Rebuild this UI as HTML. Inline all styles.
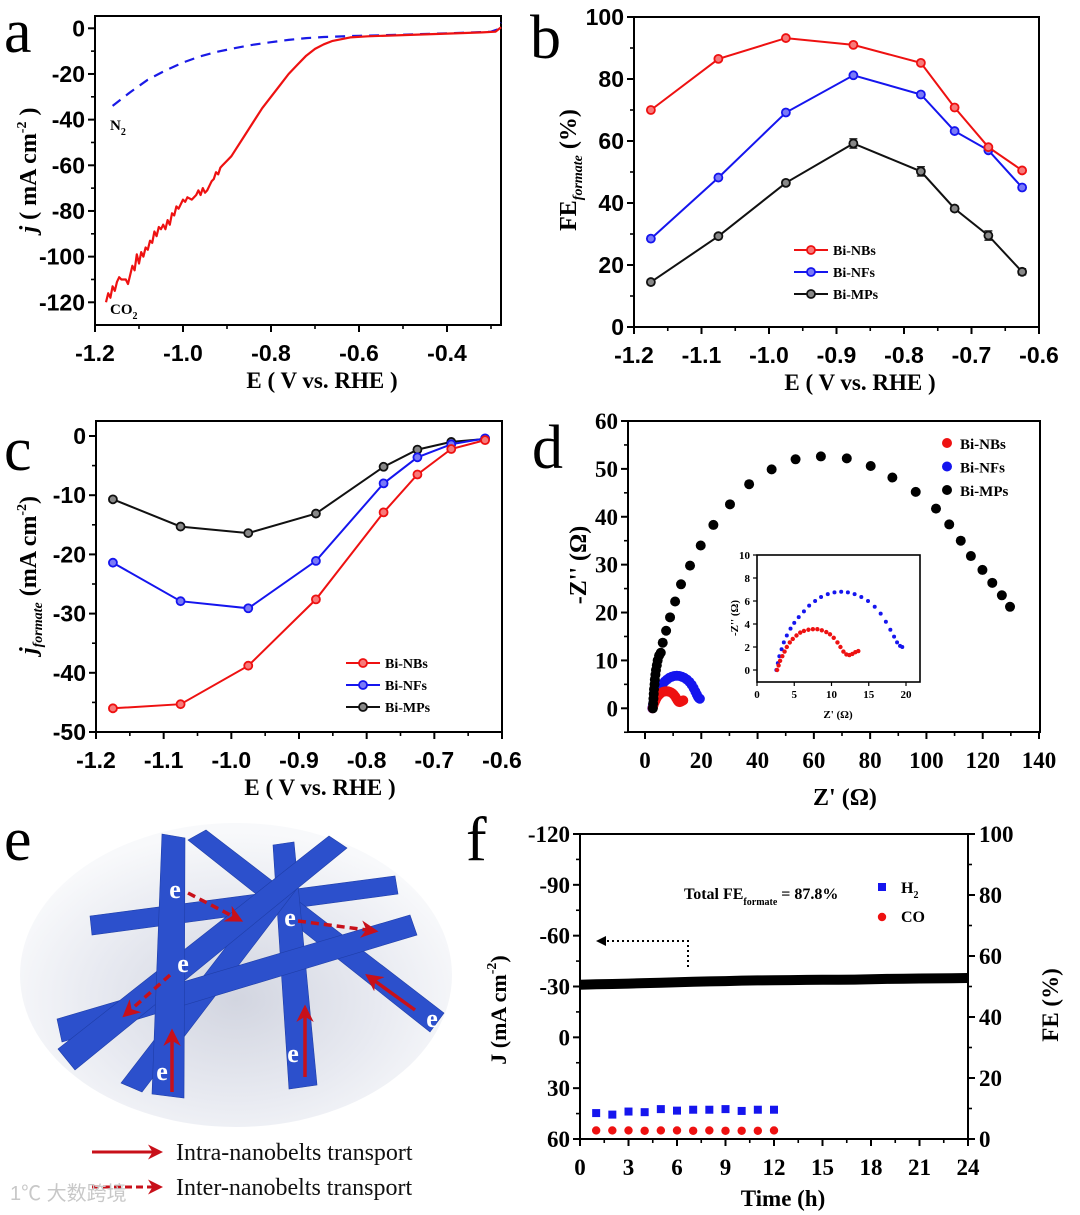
<!DOCTYPE html>
<html><head><meta charset="utf-8"><style>
html,body{margin:0;padding:0;background:#fff;}
svg{display:block;}
</style></head><body>
<svg id="fig" width="1080" height="1215" viewBox="0 0 1080 1215" xmlns="http://www.w3.org/2000/svg">
<defs>
<radialGradient id="shadowGrad" cx="0.5" cy="0.58" r="0.55">
<stop offset="0" stop-color="#d2d5e0"/><stop offset="0.6" stop-color="#e8eaf1"/><stop offset="1" stop-color="#f8f9fb"/>
</radialGradient>
<marker id="redHead" viewBox="0 0 10 10" refX="8" refY="5" markerWidth="5" markerHeight="5" orient="auto"><path d="M0,0 L10,5 L0,10 L3,5 z" fill="#c8101a"/></marker>
<marker id="blackHead" viewBox="0 0 10 10" refX="2" refY="5" markerWidth="6" markerHeight="5" orient="auto-start-reverse"><path d="M0,0 L10,5 L0,10 z" fill="#000"/></marker>
</defs>
<g id="pa"></g>
<g id="pb"></g>
<g id="pc"></g>
<g id="pd"></g>
<g id="pe">
  <ellipse cx="236" cy="975" rx="216" ry="152" fill="url(#shadowGrad)"/>
  <g fill="#2c50cc" stroke="#1f3ea8" stroke-width="0.6">
    <polygon points="90,916 395,876 398,894 92,935"/>
    <polygon points="188,840 206,830 444,1013 430,1032"/>
    <polygon points="273,845 294,842 317,1085 289,1089"/>
    <polygon points="121,1083 284,872 302,882 142,1092"/>
    <polygon points="57,1019 410,915 417,935 62,1042"/>
    <polygon points="58,1049 329,836 347,848 75,1070"/>
    <polygon points="162,834 185,838 184,1098 152,1094"/>
  </g>
  <g stroke="#c8101a" stroke-width="3.5" fill="none">
    <line x1="172" y1="1092" x2="172" y2="1032" marker-end="url(#redHead)"/>
    <line x1="305" y1="1077" x2="305" y2="1008" marker-end="url(#redHead)"/>
    <line x1="415" y1="1010" x2="368" y2="976" marker-end="url(#redHead)"/>
    <line x1="188" y1="893" x2="240" y2="920" stroke-dasharray="8,5" marker-end="url(#redHead)"/>
    <line x1="298" y1="921" x2="375" y2="931" stroke-dasharray="8,5" marker-end="url(#redHead)"/>
    <line x1="170" y1="975" x2="125" y2="1015" stroke-dasharray="8,5" marker-end="url(#redHead)"/>
  </g>
  <g font-family="'Liberation Serif',serif" font-weight="bold" font-size="26" fill="#fff" text-anchor="middle">
    <text x="175" y="898">e</text><text x="290" y="926">e</text><text x="183" y="972">e</text>
    <text x="162" y="1080">e</text><text x="293" y="1062">e</text><text x="432" y="1027">e</text>
  </g>
  <line x1="92" y1="1152" x2="160" y2="1152" stroke="#c8101a" stroke-width="3" marker-end="url(#redHead)"/>
  <text x="176" y="1160" font-family="'Liberation Serif',serif" font-size="24" fill="#111">Intra-nanobelts transport</text>
  <line x1="92" y1="1187" x2="160" y2="1187" stroke="#c8101a" stroke-width="3" stroke-dasharray="7,4" marker-end="url(#redHead)"/>
  <text x="176" y="1195" font-family="'Liberation Serif',serif" font-size="24" fill="#111">Inter-nanobelts transport</text>
  <text x="10" y="1200" font-family="'Liberation Sans','Noto Sans CJK SC',sans-serif" font-size="20" fill="#c8c8c8">1℃ 大数跨境</text>
</g>
<g id="pf"></g>
<g font-family="'Liberation Serif',serif" font-size="62" fill="#000">
  <text x="4" y="52">a</text>
  <text x="530" y="58">b</text>
  <text x="4" y="470">c</text>
  <text x="532" y="468">d</text>
  <text x="4" y="860">e</text>
  <text x="466" y="860">f</text>
</g>
</svg>
<script>
// ---------- DATA ----------
// Panel a
const aCO2E = [-1.175,-1.17,-1.165,-1.16,-1.155,-1.15,-1.145,-1.14,-1.13,-1.125,-1.12,-1.115,-1.11,-1.105,-1.10,-1.095,-1.09,-1.085,-1.08,-1.075,-1.07,-1.065,-1.06,-1.055,-1.05,-1.045,-1.04,-1.035,-1.03,-1.025,-1.02,-1.015,-1.01,-1.00,-0.995,-0.99,-0.98,-0.97,-0.965,-0.96,-0.955,-0.95,-0.945,-0.94,-0.935,-0.93,-0.925,-0.92,-0.915,-0.91,-0.90,-0.89,-0.88,-0.86,-0.84,-0.82,-0.80,-0.78,-0.76,-0.74,-0.72,-0.70,-0.68,-0.66,-0.62,-0.58,-0.50,-0.40,-0.32,-0.29,-0.277];
const aCO2J = [-120,-116,-118,-113,-115,-111,-109,-110,-110,-112,-108,-104,-106,-99,-103,-98,-100,-96,-97,-93,-94,-89,-91,-87,-88,-86,-88,-84,-86,-81,-82,-78,-79,-75,-76,-74,-75,-73,-71,-73,-70,-72,-71,-69,-67,-66,-63,-64,-61,-60,-58,-56,-53,-47,-41,-35,-30,-25,-20,-16,-12,-9,-7,-5.5,-4,-3.5,-3,-2.3,-1.8,-1.5,0.5];
const aN2E = [-1.16,-1.12,-1.08,-1.04,-1.0,-0.96,-0.92,-0.88,-0.84,-0.80,-0.76,-0.72,-0.68,-0.60,-0.50,-0.40,-0.30,-0.285,-0.277];
const aN2J = [-34,-28,-22.5,-18.5,-15,-12.2,-10.2,-8.6,-7.2,-6.1,-5.1,-4.3,-3.8,-3.3,-2.8,-2.2,-1.5,-0.5,2.5];
// Panel b / c
const potentials = [-1.175,-1.075,-0.975,-0.875,-0.775,-0.725,-0.675,-0.625];
const feNBs = [70,86.5,93.2,91,85.2,70.8,58,50.5];
const feNFs = [28.5,48.2,69.2,81.2,75,63.2,57,45];
const feMPs = [14.5,29.3,46.5,59.2,50.2,38.2,29.5,17.8];
const feErrMPs = [0.8,0.8,0.8,1.5,1.5,0.8,1.5,1.0];
const jNBs = [-46,-45.3,-38.8,-27.6,-12.9,-6.5,-2.2,-0.7];
const jNFs = [-21.4,-27.9,-29.1,-21.1,-8,-3.6,-1.4,-0.4];
const jMPs = [-10.7,-15.3,-16.4,-13.1,-5.2,-2.3,-1.0,-0.5];
// Panel d
const mpsZre = [2.8,2.9,3.0,3.1,3.2,3.4,3.5,3.7,3.9,4.2,4.5,5.0,5.6,6.3,7.5,8.9,10.7,12.8,16,19.8,24.3,30.2,37,45,53.5,62.5,71.7,80.2,87.9,96.2,103.4,108.1,112.2,115.8,119.9,123.4,126.8,129.7];
const mpsZim = [0,1,2,3,4,5,6,7,8,9,10,11,11.6,13.7,16.2,19,22.3,25.9,29.8,34,38.3,42.6,46.8,49.9,52,52.6,52.2,50.6,48.2,45.2,41.7,38.4,35,31.8,28.9,26.2,23.6,21.2];
const nbsZre = [2.7,2.9,3.1,3.4,3.7,4.0,4.4,4.8,5.3,5.8,6.3,6.9,7.5,8.1,8.7,9.3,9.8,10.3,10.8,11.2,11.6,12.0,12.4,12.8,13.2,13.6];
const nbsZim = [0,0.4,0.8,1.2,1.6,2.0,2.4,2.7,3.0,3.25,3.4,3.5,3.55,3.55,3.45,3.3,3.1,2.8,2.4,2.0,1.6,1.35,1.3,1.4,1.55,1.65];
const nfsZre = [2.6,2.8,3.0,3.3,3.6,4.0,4.5,5.0,5.6,6.3,7.0,7.8,8.6,9.5,10.4,11.3,12.2,13.1,14.0,14.9,15.8,16.6,17.3,17.9,18.4,18.8,19.2,19.5];
const nfsZim = [0,0.6,1.2,1.8,2.4,3.0,3.6,4.1,4.6,5.1,5.6,6.0,6.35,6.6,6.75,6.8,6.75,6.6,6.35,6.0,5.5,4.9,4.2,3.5,2.9,2.4,2.1,2.0];
// Panel f
const timeH = [0,1,2,3,4,5,6,7,8,9,10,11,12,13,14,15,16,17,18,19,20,21,22,23,24];
const currentJ = [-31,-31.3,-31.5,-31.7,-32,-32.2,-32.5,-32.8,-33,-33.2,-33.5,-33.6,-33.7,-33.8,-33.9,-34,-34,-34.1,-34.3,-34.5,-34.6,-34.7,-34.8,-34.9,-35];
const feTime = [1,2,3,4,5,6,7,8,9,10,11,12];
const feH2 = [8.5,8,9,8.8,9.8,9.3,9.6,9.6,9.8,9.2,9.6,9.6];
const feCO = [2.8,2.8,2.8,2.7,2.8,2.8,2.7,2.8,2.7,2.7,2.7,2.8];

// ---------- HELPERS ----------
const NS='http://www.w3.org/2000/svg';
function mk(tag, attrs, parent){const e=document.createElementNS(NS,tag);for(const k in attrs)e.setAttribute(k,attrs[k]);parent.appendChild(e);return e;}
function lin(d0,d1,r0,r1){return v=>r0+(v-d0)/(d1-d0)*(r1-r0);}

function frame(g, box, o){
  const r=mk('rect',{x:box.l,y:box.t,width:box.r-box.l,height:box.b-box.t,fill:'none',stroke:'#000','stroke-width':2},g);
  
  
  const font=o.font, fs=o.fs||23;
  const xg=mk('g',{},g);
  
  
  o.xMajor.forEach((v,i)=>{
    const x=o.sx(v);
    mk('line',{x1:x,y1:box.b,x2:x,y2:box.b+7,stroke:'#000','stroke-width':2},xg);
    const t=mk('text',{x:x+(o.xdx||0),y:box.b+36,'text-anchor':'middle','font-family':font,'font-weight':'bold','font-size':fs},xg);
    t.textContent=o.xLabels[i];
    
    
  });
  (o.xMinor||[]).forEach(v=>{const x=o.sx(v);mk('line',{x1:x,y1:box.b,x2:x,y2:box.b+4,stroke:'#000','stroke-width':1.6},xg);});
  const yg=mk('g',{},g);
  
  
  o.yMajor.forEach((v,i)=>{
    const y=o.sy(v);
    mk('line',{x1:box.l-7,y1:y,x2:box.l,y2:y,stroke:'#000','stroke-width':2},yg);
    const t=mk('text',{x:box.l-10,y:y+8,'text-anchor':'end','font-family':font,'font-weight':'bold','font-size':fs},yg);
    t.textContent=o.yLabels[i];
    
    
  });
  (o.yMinor||[]).forEach(v=>{const y=o.sy(v);mk('line',{x1:box.l-4,y1:y,x2:box.l,y2:y,stroke:'#000','stroke-width':1.6},yg);});
}
function pathD(xs,ys,sx,sy){return xs.map((v,i)=>(i?'L':'M')+sx(v).toFixed(1)+','+sy(ys[i]).toFixed(1)).join(' ');}
function rotTitle(g,x,y,parts,fs,name){
  const t=mk('text',{x:x,y:y,transform:`rotate(-90 ${x} ${y})`,'text-anchor':'middle','font-family':"'Liberation Serif',serif",'font-weight':'bold','font-size':fs},g);
  t.innerHTML=parts;
  
  
}
function hTitle(g,x,y,txt,fs,name){
  const t=mk('text',{x:x,y:y,'text-anchor':'middle','font-family':"'Liberation Serif',serif",'font-weight':'bold','font-size':fs},g);
  t.innerHTML=txt;
  
  
}
const SANS="'Liberation Sans',Arial,sans-serif", SERIF="'Liberation Serif',serif";
const tint={'#ee1111':'#f77a7a','#1515ee':'#7a7af7','#111':'#888'};

// ---------- PANEL A ----------
(function(){
  const g=document.getElementById('pa');
  const box={l:95,r:501,t:16,b:325};
  const sx=lin(-1.2,-0.4,95,447), sy=lin(0,-120,28.3,302.3);
  frame(g,box,{sx,sy,font:SANS,fs:23,xMajor:[-1.2,-1.0,-0.8,-0.6,-0.4],xLabels:['-1.2','-1.0','-0.8','-0.6','-0.4'],xMinor:[-1.1,-0.9,-0.7,-0.5,-0.3],
    yMajor:[0,-20,-40,-60,-80,-100,-120],yLabels:['0','-20','-40','-60','-80','-100','-120'],yMinor:[-10,-30,-50,-70,-90,-110,-130].filter(v=>sy(v)<box.b)});
  const n2=mk('path',{d:pathD(aN2E,aN2J,sx,sy),fill:'none',stroke:'#1a1ae6','stroke-width':2.2,'stroke-dasharray':'10,7'},g);
  
  
  const co=mk('path',{d:pathD(aCO2E,aCO2J,sx,sy),fill:'none',stroke:'#ee1111','stroke-width':2.2,'stroke-linejoin':'round'},g);
  
  
  const l1=mk('text',{x:110,y:130,'font-family':SERIF,'font-weight':'bold','font-size':15},g);
  l1.innerHTML='N<tspan dy="5" font-size="10">2</tspan>';
  
  
  const l2=mk('text',{x:110,y:314,'font-family':SERIF,'font-weight':'bold','font-size':15},g);
  l2.innerHTML='CO<tspan dy="5" font-size="10">2</tspan>';
  
  
  rotTitle(g,36,170,'<tspan font-style="italic">j</tspan> ( mA cm<tspan dy="-10" font-size="14">-2</tspan><tspan dy="10"> )</tspan>',24,'y-axis-title');
  hTitle(g,322,388,'E ( V vs. RHE )',23,'x-axis-title');
})();

function series(g,xs,ys,sx,sy,color,name,err){
  const sg=mk('g',{},g);
  
  
  mk('path',{d:pathD(xs,ys,sx,sy),fill:'none',stroke:color,'stroke-width':2},sg);
  xs.forEach((v,i)=>{
    if(err){const e=err[i];mk('line',{x1:sx(v),y1:sy(ys[i]-e),x2:sx(v),y2:sy(ys[i]+e),stroke:color,'stroke-width':1.3},sg);
      mk('line',{x1:sx(v)-4,y1:sy(ys[i]+e),x2:sx(v)+4,y2:sy(ys[i]+e),stroke:color,'stroke-width':1.3},sg);
      mk('line',{x1:sx(v)-4,y1:sy(ys[i]-e),x2:sx(v)+4,y2:sy(ys[i]-e),stroke:color,'stroke-width':1.3},sg);}
    const c=mk('circle',{cx:sx(v),cy:sy(ys[i]),r:4,fill:tint[color],stroke:color,'stroke-width':1.8},sg);
    
    
  });
}
function legend3(g,x,y,gap,names,colors){
  names.forEach((n,i)=>{
    const lg=mk('g',{},g);
    
    
    const yy=y+i*gap;
    mk('line',{x1:x,y1:yy,x2:x+34,y2:yy,stroke:colors[i],'stroke-width':2},lg);
    mk('circle',{cx:x+17,cy:yy,r:4,fill:tint[colors[i]],stroke:colors[i],'stroke-width':1.8},lg);
    const t=mk('text',{x:x+39,y:yy+5,'font-family':SERIF,'font-weight':'bold','font-size':14},lg);
    t.textContent=n;
  });
}

// ---------- PANEL B ----------
(function(){
  const g=document.getElementById('pb');
  const box={l:634,r:1039,t:17,b:327};
  const sx=lin(-1.2,-0.6,634,1039), sy=lin(0,100,327,17);
  frame(g,box,{sx,sy,font:SANS,fs:23,xMajor:[-1.2,-1.1,-1.0,-0.9,-0.8,-0.7,-0.6],xLabels:['-1.2','-1.1','-1.0','-0.9','-0.8','-0.7','-0.6'],
    xMinor:[-1.15,-1.05,-0.95,-0.85,-0.75,-0.65],yMajor:[0,20,40,60,80,100],yLabels:['0','20','40','60','80','100'],yMinor:[10,30,50,70,90]});
  series(g,potentials,feMPs,sx,sy,'#111','series-bi-mps',feErrMPs);
  series(g,potentials,feNFs,sx,sy,'#1515ee','series-bi-nfs');
  series(g,potentials,feNBs,sx,sy,'#ee1111','series-bi-nbs');
  legend3(g,794,250,22,['Bi-NBs','Bi-NFs','Bi-MPs'],['#ee1111','#1515ee','#111']);
  rotTitle(g,576,170,'FE<tspan dy="6" font-size="14" font-style="italic">formate</tspan><tspan dy="-6"> (%)</tspan>',24,'y-axis-title');
  hTitle(g,860,390,'E ( V vs. RHE )',23,'x-axis-title');
})();

// ---------- PANEL C ----------
(function(){
  const g=document.getElementById('pc');
  const box={l:96,r:502,t:421,b:732};
  const sx=lin(-1.2,-0.6,96,502), sy=lin(0,-50,436,732);
  frame(g,box,{sx,sy,font:SANS,fs:23,xMajor:[-1.2,-1.1,-1.0,-0.9,-0.8,-0.7,-0.6],xLabels:['-1.2','-1.1','-1.0','-0.9','-0.8','-0.7','-0.6'],
    xMinor:[-1.15,-1.05,-0.95,-0.85,-0.75,-0.65],yMajor:[0,-10,-20,-30,-40,-50],yLabels:['0','-10','-20','-30','-40','-50'],yMinor:[-5,-15,-25,-35,-45]});
  series(g,potentials,jMPs,sx,sy,'#111','series-bi-mps');
  series(g,potentials,jNFs,sx,sy,'#1515ee','series-bi-nfs');
  series(g,potentials,jNBs,sx,sy,'#ee1111','series-bi-nbs');
  legend3(g,346,663,22,['Bi-NBs','Bi-NFs','Bi-MPs'],['#ee1111','#1515ee','#111']);
  rotTitle(g,36,575,'<tspan font-style="italic">j</tspan><tspan dy="6" font-size="14" font-style="italic">formate</tspan><tspan dy="-6"> (mA cm</tspan><tspan dy="-10" font-size="14">-2</tspan><tspan dy="10">)</tspan>',24,'y-axis-title');
  hTitle(g,320,795,'E ( V vs. RHE )',23,'x-axis-title');
})();

// ---------- PANEL D ----------
(function(){
  const g=document.getElementById('pd');
  const box={l:628,r:1040,t:421,b:732};
  const sx=lin(0,140,645,1039), sy=lin(0,60,708.3,421);
  frame(g,box,{sx,sy,font:SERIF,fs:23,xMajor:[0,20,40,60,80,100,120,140],xLabels:['0','20','40','60','80','100','120','140'],
    xMinor:[10,30,50,70,90,110,130],yMajor:[0,10,20,30,40,50,60],yLabels:['0','10','20','30','40','50','60'],yMinor:[-5,5,15,25,35,45,55]});
  function dots(xs,ys,sx,sy,color,r,name,parent){
    const sg=mk('g',{},parent);
    
    
    xs.forEach((v,i)=>{mk('circle',{cx:sx(v),cy:sy(ys[i]),r:r,fill:color},sg);});
  }
  dots(nfsZre,nfsZim,sx,sy,'#1515ee',5,'series-bi-nfs',g);
  dots(nbsZre,nbsZim,sx,sy,'#ee1111',5,'series-bi-nbs',g);
  dots(mpsZre,mpsZim,sx,sy,'#000',5,'series-bi-mps',g);
  [['Bi-NBs','#ee1111'],['Bi-NFs','#1515ee'],['Bi-MPs','#000']].forEach((p,i)=>{
    const lg=mk('g',{},g);
    
    
    mk('circle',{cx:947,cy:443+i*23.5,r:5,fill:p[1]},lg);
    const t=mk('text',{x:960,y:449+i*23.5,'font-family':SERIF,'font-weight':'bold','font-size':15},lg);
    t.textContent=p[0];
  });
  const ig=mk('g',{},g);
  
  
  mk('rect',{x:757,y:555,width:163,height:127,fill:'#fff',stroke:'#000','stroke-width':1.6},ig);
  const isx=lin(0,20,757,906), isy=lin(0,10,670,555);
  [0,5,10,15,20].forEach(v=>{mk('line',{x1:isx(v),y1:682,x2:isx(v),y2:686,stroke:'#000','stroke-width':1.2},ig);
    const t=mk('text',{x:isx(v),y:698,'text-anchor':'middle','font-family':SERIF,'font-weight':'bold','font-size':11},ig);t.textContent=v;});
  [0,2,4,6,8,10].forEach(v=>{mk('line',{x1:753,y1:isy(v),x2:757,y2:isy(v),stroke:'#000','stroke-width':1.2},ig);
    const t=mk('text',{x:750,y:isy(v)+4,'text-anchor':'end','font-family':SERIF,'font-weight':'bold','font-size':11},ig);t.textContent=v;});
  const itx=mk('text',{x:838,y:718,'text-anchor':'middle','font-family':SERIF,'font-weight':'bold','font-size':11},ig);
  itx.textContent="Z' (Ω)";
  
  
  const ity=mk('text',{x:738,y:618,transform:'rotate(-90 738 618)','text-anchor':'middle','font-family':SERIF,'font-weight':'bold','font-size':11},ig);
  ity.textContent="-Z'' (Ω)";
  
  
  dots(nfsZre,nfsZim,isx,isy,'#1515ee',2,'inset-bi-nfs',ig);
  dots(nbsZre,nbsZim,isx,isy,'#ee1111',2.2,'inset-bi-nbs',ig);
  rotTitle(g,586,565,"-Z'' (Ω)",24,'y-axis-title');
  hTitle(g,845,805,"Z' (Ω)",24,'x-axis-title');
})();

// ---------- PANEL F ----------
(function(){
  const g=document.getElementById('pf');
  const box={l:580,r:968,t:834,b:1139};
  const sx=lin(0,24,580,968), sy=lin(-120,60,834,1139), sy2=lin(0,100,1139,834);
  frame(g,box,{sx,sy,font:SERIF,fs:23,xMajor:[0,3,6,9,12,15,18,21,24],xLabels:['0','3','6','9','12','15','18','21','24'],
    xMinor:[1.5,4.5,7.5,10.5,13.5,16.5,19.5,22.5],yMajor:[-120,-90,-60,-30,0,30,60],yLabels:['-120','-90','-60','-30','0','30','60'],
    yMinor:[-105,-75,-45,-15,15,45]});
  const rg=mk('g',{},g);
  
  
  [0,20,40,60,80,100].forEach(v=>{mk('line',{x1:968,y1:sy2(v),x2:975,y2:sy2(v),stroke:'#000','stroke-width':2},rg);
    const t=mk('text',{x:979,y:sy2(v)+8,'font-family':SERIF,'font-weight':'bold','font-size':23},rg);t.textContent=v;});
  [10,30,50,70,90].forEach(v=>mk('line',{x1:968,y1:sy2(v),x2:972,y2:sy2(v),stroke:'#000','stroke-width':1.6},rg));
  const cur=mk('path',{d:pathD(timeH,currentJ,sx,sy),fill:'none',stroke:'#000','stroke-width':10},g);
  
  
  const hg=mk('g',{},g);
  
  
  feTime.forEach((t,i)=>mk('rect',{x:sx(t)-4,y:sy2(feH2[i])-4,width:8,height:8,fill:'#1515ee'},hg));
  const cg=mk('g',{},g);
  
  
  feTime.forEach((t,i)=>mk('circle',{cx:sx(t),cy:sy2(feCO[i]),r:4.2,fill:'#ee1111'},cg));
  const ar=mk('path',{d:'M688,967 L688,941 L604,941',fill:'none',stroke:'#000','stroke-width':2,'stroke-dasharray':'2,3','marker-end':'url(#blackHead)'},g);
  
  
  const tt=mk('text',{x:684,y:899,'font-family':SERIF,'font-weight':'bold','font-size':16},g);
  tt.innerHTML='Total FE<tspan dy="6" font-size="10">formate</tspan><tspan dy="-6"> = 87.8%</tspan>';
  
  
  const l1=mk('g',{},g);
  
  
  mk('rect',{x:878,y:883,width:8,height:8,fill:'#1515ee'},l1);
  const t1=mk('text',{x:901,y:893,'font-family':SERIF,'font-weight':'bold','font-size':16},l1);
  t1.innerHTML='H<tspan dy="5" font-size="10">2</tspan>';
  const l2=mk('g',{},g);
  
  
  mk('circle',{cx:882,cy:917,r:4.2,fill:'#ee1111'},l2);
  const t2=mk('text',{x:901,y:922,'font-family':SERIF,'font-weight':'bold','font-size':16},l2);
  t2.textContent='CO';
  rotTitle(g,506,1010,'J (mA cm<tspan dy="-10" font-size="14">-2</tspan><tspan dy="10">)</tspan>',22,'y-axis-title');
  rotTitle(g,1058,1005,'FE (%)',23,'right-y-axis-title');
  hTitle(g,783,1206,'Time (h)',23,'x-axis-title');
})();
</script>
</body></html>
